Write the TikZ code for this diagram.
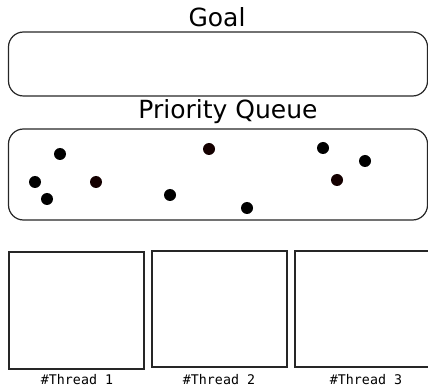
\documentclass[tikz,border=0pt]{standalone}
\usepackage{fontspec}
\setmainfont{DejaVu Sans}
\newfontfamily\threadfont{DejaVu Sans Mono}
\usepackage{tikz}
\usetikzlibrary{positioning}
\definecolor{darkdot}{RGB}{20,0,0}

\begin{document}
\begin{tikzpicture}[x=1pt,y=-1pt]
\useasboundingbox (0,0) rectangle (428,387);
% goal
\node (goal_t) at (217,17) {\fontsize{25}{30}\selectfont Goal};
\node[draw, black!85, line width=1.2pt, rounded corners=15pt, minimum width=419pt, minimum height=64pt] (goal) at (218,64) {};
% priority queue
\node (pq_t) at (228,112) {\fontsize{25}{30}\selectfont Priority Queue};
\node[draw, black!85, line width=1.2pt, rounded corners=15pt, minimum width=419pt, minimum height=91pt] (pq) at (218,174.5) {};
\node[circle, fill, inner sep=0pt, minimum size=12pt] (d1) at (60,154) {};
\node[circle, fill, inner sep=0pt, minimum size=12pt] (d2) at (35,182) {};
\node[circle, fill, inner sep=0pt, minimum size=12pt] (d3) at (47,199) {};
\node[circle, fill=darkdot, inner sep=0pt, minimum size=12pt] (d4) at (96,182) {};
\node[circle, fill=darkdot, inner sep=0pt, minimum size=12pt] (d5) at (209,149) {};
\node[circle, fill, inner sep=0pt, minimum size=12pt] (d6) at (170,195) {};
\node[circle, fill, inner sep=0pt, minimum size=12pt] (d7) at (247,208) {};
\node[circle, fill, inner sep=0pt, minimum size=12pt] (d8) at (323,148) {};
\node[circle, fill, inner sep=0pt, minimum size=12pt] (d9) at (365,161) {};
\node[circle, fill=darkdot, inner sep=0pt, minimum size=12pt] (d10) at (337,180) {};
% threads
\node[draw, black!85, line width=1.2pt, minimum width=135pt, minimum height=117pt] (th1) at (76.5,310.5) {};
\node[draw, black!85, line width=1.2pt, minimum width=135pt, minimum height=116pt] (th2) at (219.5,309) {};
\node[draw, black!85, line width=1.2pt, minimum width=135pt, minimum height=116pt] (th3) at (362.5,309) {};
\node (th1_t) at (77,380) {\threadfont\fontsize{13.3}{16}\selectfont \#Thread 1};
\node (th2_t) at (219,380) {\threadfont\fontsize{13.3}{16}\selectfont \#Thread 2};
\node (th3_t) at (366,380) {\threadfont\fontsize{13.3}{16}\selectfont \#Thread 3};
\end{tikzpicture}
\end{document}
